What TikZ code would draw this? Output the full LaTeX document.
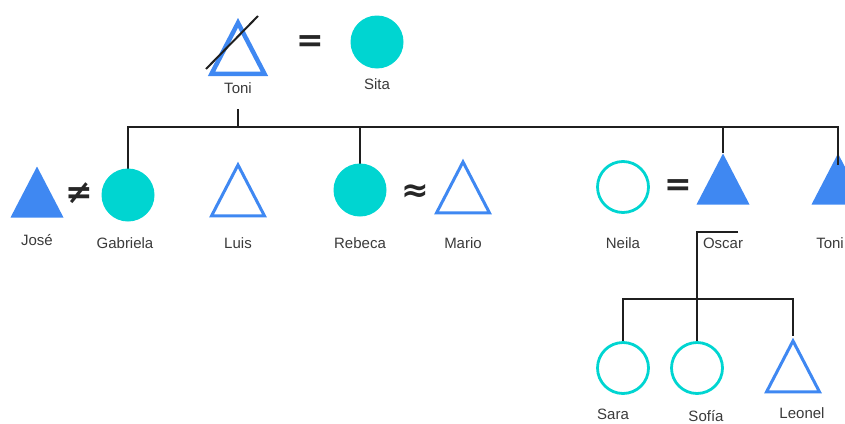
\documentclass[tikz,border=0pt]{standalone}
\usepackage{fontspec}
\setmainfont{Liberation Sans}
\newfontfamily\symfont{DejaVu Sans}
\usetikzlibrary{shapes.geometric}
\definecolor{cyanC}{HTML}{00D5D1}
\definecolor{blueT}{HTML}{3F88F2}
\definecolor{txt}{HTML}{3A3A3A}
\tikzset{
  lbl/.style={font=\fontsize{15}{18}\selectfont, text=txt, inner sep=0pt},
  tri/.style={isosceles triangle, shape border rotate=90, isosceles triangle stretches,
              minimum width=53pt, minimum height=51pt, inner sep=0pt, anchor=apex},
  trio/.style={tri, draw=blueT, line width=3pt, line join=miter},
  trif/.style={tri, fill=blueT},
  circf/.style={circle, fill=cyanC, minimum size=53pt, inner sep=0pt},
  circo/.style={circle, draw=cyanC, line width=2.8pt, minimum size=51pt, inner sep=0pt},
  link/.style={draw=black!88, line width=2pt},
  sym/.style={font=\symfont\bfseries\fontsize{33}{33}\selectfont, text=black!85, inner sep=0pt}
}
\begin{document}
\begin{tikzpicture}[x=1pt,y=-1pt]
\useasboundingbox (0,0) rectangle (845,423);
% coordinates
\coordinate (tdrop) at (238,109);
\coordinate (rt) at (838,127);
\coordinate (ob1) at (738,232);
\coordinate (hj) at (697,299);

% connectors (drawn first)
\draw[link] (tdrop) -- (tdrop |- rt);
\draw[link] (128,169) coordinate (gabtop) |- (rt) -- (838,165) coordinate (toniRtop);
\draw[link] (360,164) coordinate (rebtop) -- (rebtop |- rt);
\draw[link] (723,153) coordinate (osctop) -- (osctop |- rt);
\draw[link] (ob1) -| (697,341) coordinate (softop);
\draw[link] (623,341) coordinate (saratop) |- (hj) -| (793,336) coordinate (leotop);

% generation 1
\node[trio, line width=4.5pt] (toni) at (238,17) {};
\draw[black!88, line width=2pt] (206,69) -- (258,16);
\node[lbl] (toniL) at (238,88) {Toni};
\node[sym] (eq1) at (310,44) {=};
\node[circf] (sita) at (377,42) {};
\node[lbl] (sitaL) at (377,84) {Sita};

% generation 2
\node[trif] (jose) at (37,166) {};
\node[lbl] (joseL) at (37,240) {José};
\node[sym] (neq) at (79,193) {≠};
\node[circf] (gab) at (128,195) {};
\node[lbl] (gabL) at (125,243) {Gabriela};
\node[trio] (luis) at (238,161) {};
\node[lbl] (luisL) at (238,243) {Luis};
\node[circf] (reb) at (360,190) {};
\node[lbl] (rebL) at (360,243) {Rebeca};
\node[sym] (approx) at (415,193) {≈};
\node[trio] (mario) at (463,158) {};
\node[lbl] (marioL) at (463,243) {Mario};
\node[circo] (neila) at (623,187) {};
\node[lbl] (neilaL) at (623,243) {Neila};
\node[sym] (eq2) at (678,188) {=};
\node[trif] (oscar) at (723,153) {};
\node[lbl] (oscarL) at (723,243) {Oscar};
\node[trif] (toni2) at (838,153) {};
\node[lbl] (toni2L) at (830,243) {Toni};
\draw[link] (rt) -- (toniRtop);

% generation 3
\node[circo] (sara) at (623,368) {};
\node[lbl] (saraL) at (613,414) {Sara};
\node[circo] (sofia) at (697,368) {};
\node[lbl] (sofiaL) at (706,416) {Sofía};
\node[trio] (leonel) at (793,337) {};
\node[lbl] (leonelL) at (802,413) {Leonel};
\end{tikzpicture}
\end{document}
